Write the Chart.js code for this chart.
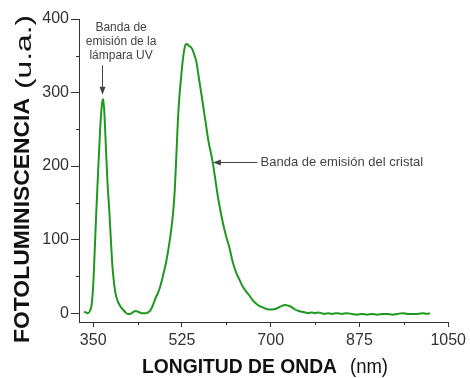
<!DOCTYPE html>
<html>
<head>
<meta charset="utf-8">
<script src="https://cdn.jsdelivr.net/npm/chart.js@4/dist/chart.umd.min.js"></script>
<style>
  html, body { margin: 0; padding: 0; background: #fff; }
  #wrap { width: 470px; height: 378px; }
</style>
</head>
<body>
<div id="wrap"><canvas id="pl-chart" width="470" height="378"></canvas></div>
<script>
// Espectro de fotoluminiscencia
const wavelength = [
  332, 336, 340, 344, 347, 350, 353, 356, 359, 362, 365, 368, 370, 373, 375, 378,
  382, 385, 388, 391, 394, 398, 402, 406, 410, 414, 418, 422, 426, 430, 434, 438,
  442, 446, 450, 454, 458, 462, 466, 470, 474, 478, 482, 486, 490, 494, 498, 502,
  505, 508, 511, 514, 517, 520, 523, 526, 529, 532, 535, 538, 542, 546, 550, 554,
  557, 561, 564, 567, 572, 577, 582, 586, 591, 596, 601, 606, 612, 619, 625, 632,
  638, 645, 651, 658, 664, 671, 677, 684, 690, 697, 703, 710, 716, 722, 729, 735,
  742, 748, 755, 761, 768, 774, 781, 787, 794, 800, 807, 813, 820, 830, 840, 850,
  860, 870, 880, 890, 900, 910, 920, 930, 940, 950, 960, 970, 980, 990, 1000, 1008, 1014
];
const intensity = [
  2, 1, 0, 4, 12, 38, 85, 136, 182, 226, 265, 288, 291, 258, 226, 180,
  136, 98, 63, 42, 27, 17, 11, 7, 4, 1, -1, -1, 0, 2, 3, 2,
  1, 0, 0, 0, 1, 3, 8, 15, 22, 28, 36, 46, 58, 70, 86, 104,
  120, 140, 170, 215, 262, 295, 318, 340, 356, 365, 366, 364, 362, 358, 350, 340,
  326, 308, 295, 281, 258, 235, 218, 204, 181, 158, 139, 122, 105, 88, 70, 55,
  46, 36, 30, 24, 18, 13, 10, 8, 6, 5, 5, 6, 8, 10, 11, 10,
  8, 5, 3, 2, 1, 0, 1, 0, 1, 0, -1, 0, -1, 0, -1, 0,
  -1, -2, -1, -2, -1, -2, -1, -1, -2, -1, 0, -1, -1, -1, 0, -1, 0
];

const xTicks = [350, 525, 700, 875, 1050];
const xMinor = [437.5, 612.5, 787.5, 962.5];
const yTicks = [0, 100, 200, 300, 400];
const yMinor = [50, 150, 250, 350];

// Anotaciones (en unidades de los datos)
const lampLabel = ['Banda de', 'emisión de la', 'lámpara UV'];
const lampLabelPos = [405, 388];        // nm, u.a. (primera línea)
const lampArrow = [368, 337, 297];      // nm, desde, hasta
const crystalLabel = 'Banda de emisión del cristal';
const crystalArrow = [674, 586, 206];   // desde nm, hasta nm, u.a.
const crystalLabelX = 680;

const FONT = '"Liberation Sans", Arial, Helvetica, sans-serif';

function arrowHead(ctx, x, y, dir) {
  // dir: 'down' o 'left'
  ctx.beginPath();
  if (dir === 'down') {
    ctx.moveTo(x, y);
    ctx.lineTo(x - 3, y - 8);
    ctx.lineTo(x + 3, y - 8);
  } else {
    ctx.moveTo(x, y);
    ctx.lineTo(x + 8, y - 3);
    ctx.lineTo(x + 8, y + 3);
  }
  ctx.closePath();
  ctx.fill();
}

function stretchedText(ctx, text, x, y, targetW) {
  const w = ctx.measureText(text).width;
  ctx.save();
  ctx.translate(x, y);
  ctx.scale(targetW / w, 1);
  ctx.fillText(text, 0, 0);
  ctx.restore();
}

const extrasPlugin = {
  id: 'extras',
  afterDraw(chart) {
    const ctx = chart.ctx;
    const xs = chart.scales.x;
    const ys = chart.scales.y;
    const area = chart.chartArea;

    // marcas menores
    ctx.save();
    ctx.strokeStyle = '#333';
    ctx.lineWidth = 1;
    ctx.beginPath();
    xMinor.forEach(v => {
      const px = Math.round(xs.getPixelForValue(v)) + 0.5;
      ctx.moveTo(px, area.bottom);
      ctx.lineTo(px, area.bottom + 3);
    });
    yMinor.forEach(v => {
      const py = Math.round(ys.getPixelForValue(v)) + 0.5;
      ctx.moveTo(area.left, py);
      ctx.lineTo(area.left - 3, py);
    });
    ctx.stroke();

    // títulos de ejes
    ctx.fillStyle = '#111';
    ctx.textBaseline = 'middle';
    ctx.textAlign = 'left';
    ctx.font = 'bold 21px ' + FONT;
    stretchedText(ctx, 'LONGITUD DE ONDA', 142, 367, 195);
    ctx.font = '21px ' + FONT;
    stretchedText(ctx, '(nm)', 350, 367, 38);

    ctx.save();
    ctx.translate(23, 343);
    ctx.rotate(-Math.PI / 2);
    ctx.font = 'bold 22px ' + FONT;
    stretchedText(ctx, 'FOTOLUMINISCENCIA', 0, 0, 245);
    ctx.font = '22px ' + FONT;
    stretchedText(ctx, '(u.a.)', 254, 2, 74);
    ctx.restore();

    // anotaciones
    ctx.fillStyle = '#444';
    ctx.strokeStyle = '#444';
    ctx.font = '12px ' + FONT;
    ctx.textAlign = 'center';
    const lx = xs.getPixelForValue(lampLabelPos[0]);
    const ly = ys.getPixelForValue(lampLabelPos[1]);
    lampLabel.forEach((t, i) => ctx.fillText(t, lx, ly + i * 14));

    const ax = Math.round(xs.getPixelForValue(lampArrow[0])) + 0.5;
    const ay1 = ys.getPixelForValue(lampArrow[1]);
    const ay2 = ys.getPixelForValue(lampArrow[2]);
    ctx.beginPath();
    ctx.moveTo(ax, ay1);
    ctx.lineTo(ax, ay2 - 6);
    ctx.stroke();
    arrowHead(ctx, ax, ay2, 'down');

    const cy = Math.round(ys.getPixelForValue(crystalArrow[2])) + 0.5;
    const cx1 = xs.getPixelForValue(crystalArrow[0]);
    const cx2 = xs.getPixelForValue(crystalArrow[1]);
    ctx.beginPath();
    ctx.moveTo(cx1, cy);
    ctx.lineTo(cx2 + 6, cy);
    ctx.stroke();
    arrowHead(ctx, cx2, cy, 'left');

    ctx.font = '13px ' + FONT;
    ctx.textAlign = 'left';
    ctx.fillText(crystalLabel, xs.getPixelForValue(crystalLabelX), cy);
    ctx.restore();
  }
};

const points = wavelength.map((w, i) => ({ x: w, y: intensity[i] }));

new Chart(document.getElementById('pl-chart'), {
  type: 'line',
  data: {
    datasets: [{
      data: points,
      borderColor: '#1f981f',
      borderWidth: 2,
      pointRadius: 0,
      fill: false,
      cubicInterpolationMode: 'monotone'
    }]
  },
  options: {
    responsive: false,
    animation: false,
    events: [],
    layout: { padding: { left: 0, top: 19, right: 18, bottom: 0 } },
    plugins: {
      legend: { display: false },
      tooltip: { enabled: false }
    },
    scales: {
      x: {
        type: 'linear',
        min: 322,
        max: 1050,
        afterBuildTicks: s => { s.ticks = xTicks.map(v => ({ value: v })); },
        afterFit: s => { s.height = 56; },
        ticks: {
          color: '#333',
          font: { family: FONT, size: 16 },
          padding: 4,
          maxRotation: 0,
          autoSkip: false,
          callback: v => String(v)
        },
        grid: {
          drawOnChartArea: false,
          drawTicks: true,
          tickLength: 5,
          tickColor: '#333'
        },
        border: { color: '#333', width: 1 }
      },
      y: {
        type: 'linear',
        min: -12,
        max: 400,
        afterBuildTicks: s => { s.ticks = yTicks.map(v => ({ value: v })); },
        afterFit: s => { s.width = 79; },
        ticks: {
          color: '#333',
          font: { family: FONT, size: 16 },
          padding: 2,
          autoSkip: false,
          callback: v => String(v)
        },
        grid: {
          drawOnChartArea: false,
          drawTicks: true,
          tickLength: 8,
          tickColor: '#333'
        },
        border: { color: '#333', width: 1 }
      }
    }
  },
  plugins: [extrasPlugin]
});
</script>
</body>
</html>
